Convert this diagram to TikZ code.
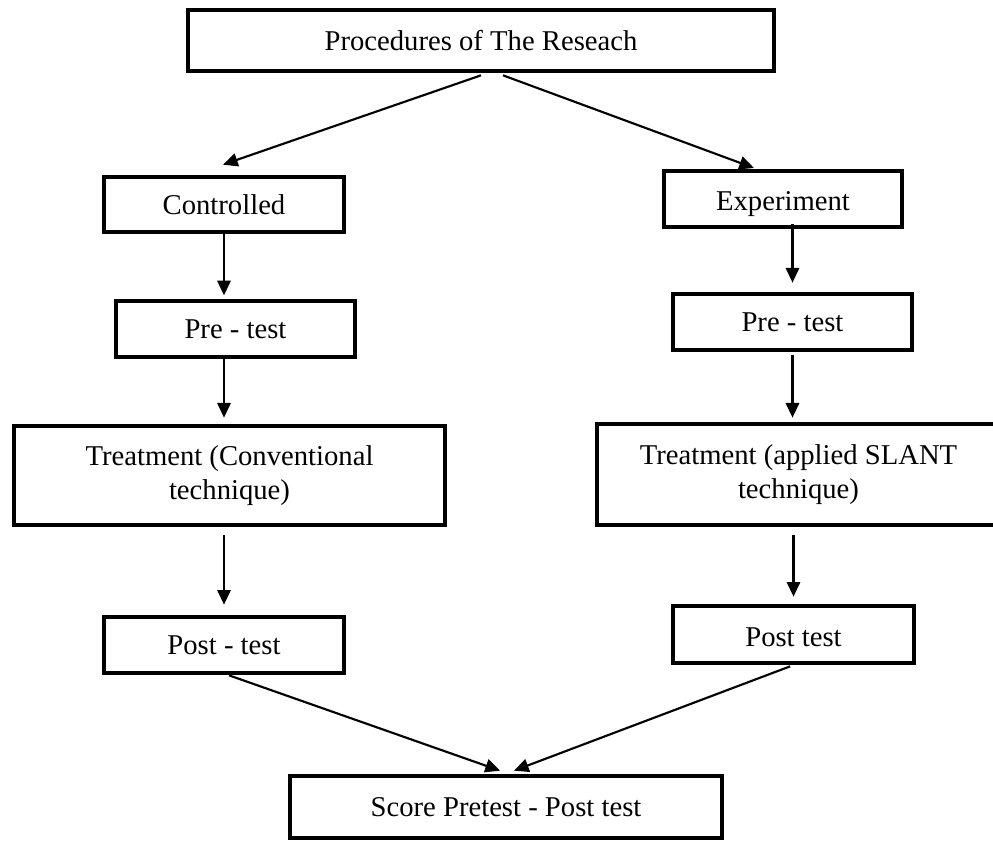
\documentclass[tikz,border=0pt]{standalone}
\usepackage{fontspec}
\setmainfont{Liberation Serif}
\usetikzlibrary{arrows.meta}

\begin{document}
\begin{tikzpicture}[x=0.75pt,y=0.75pt,yscale=-1,xscale=1,
  stage/.style={draw,line width=3.5pt,inner sep=0pt,align=center,
    font=\fontsize{21.5}{26}\selectfont},
  arr/.style={line width=1.6pt,-{Triangle[length=11pt,width=10pt]}}]
\useasboundingbox (0,0) rectangle (993,841);

% Text Node
\draw (481,40.5) node [stage,minimum width=439.5pt,minimum height=45.75pt] (proc) {Procedures of The Reseach};
% Text Node
\draw (224,204.5) node [stage,minimum width=180pt,minimum height=41.25pt] (ctrl) {Controlled};
% Text Node
\draw (783,199) node [stage,minimum width=178.5pt,minimum height=42pt] (expt) {\raisebox{-4pt}[\height][\depth]{Experiment}};
% Text Node
\draw (235.5,329) node [stage,minimum width=179.25pt,minimum height=42pt] (preL) {Pre - test};
% Text Node
\draw (792.5,322) node [stage,minimum width=179.25pt,minimum height=42pt] (preR) {Pre - test};
% Text Node
\draw (229.5,475.5) node [stage,minimum width=323.25pt,minimum height=74.25pt] (treatL) {Treatment (Conventional\\technique)};
% Text Node
\draw (798.5,474.5) node [stage,minimum width=302.25pt,minimum height=75.75pt] (treatR) {Treatment (applied SLANT\\technique)};
% Text Node
\draw (224,645) node [stage,minimum width=180pt,minimum height=42pt] (postL) {Post - test};
% Text Node
\draw (793.5,634.5) node [stage,minimum width=180.75pt,minimum height=42.75pt] (postR) {\raisebox{-2.25pt}[\height][\depth]{Post test}};
% Text Node
\draw (506,807) node [stage,minimum width=324pt,minimum height=46.5pt] (score) {Score Pretest - Post test};

%Straight Lines
\draw [arr] ([yshift=1.5pt]proc.south) -- ([xshift=-0.75pt,yshift=-7.5pt]ctrl.north);
%Straight Lines
\draw [arr] ([xshift=16.5pt,yshift=1.5pt]proc.south) -- ([xshift=-21.75pt,yshift=-0.5pt]expt.north);
%Straight Lines
\draw [arr] (ctrl.south) -- ([yshift=-2.5pt]preL.north -| ctrl.south);
%Straight Lines
\draw [arr] ([yshift=-3.75pt]expt.south -| preR.north) -- ([yshift=-6.75pt]preR.north);
%Straight Lines
\draw [arr] (preL.south -| ctrl.south) -- ([yshift=-4.5pt]treatL.north -| ctrl.south);
%Straight Lines
\draw [arr] ([yshift=2.25pt]preR.south) -- ([yshift=-3pt]treatR.north -| preR.south);
%Straight Lines
\draw [arr] ([yshift=6pt]treatL.south -| postL.north) -- ([yshift=-7.5pt]postL.north);
%Straight Lines
\draw [arr] ([yshift=6pt]treatR.south -| postR.north) -- ([yshift=-5.25pt]postR.north);
%Straight Lines
\draw [arr] ([xshift=3.75pt]postL.south) -- ([xshift=-4.5pt,yshift=-2.25pt]score.north);
%Straight Lines
\draw [arr] ([xshift=-2.5pt,yshift=0.75pt]postR.south) -- ([xshift=6pt,yshift=-2.25pt]score.north);

\end{tikzpicture}
\end{document}
